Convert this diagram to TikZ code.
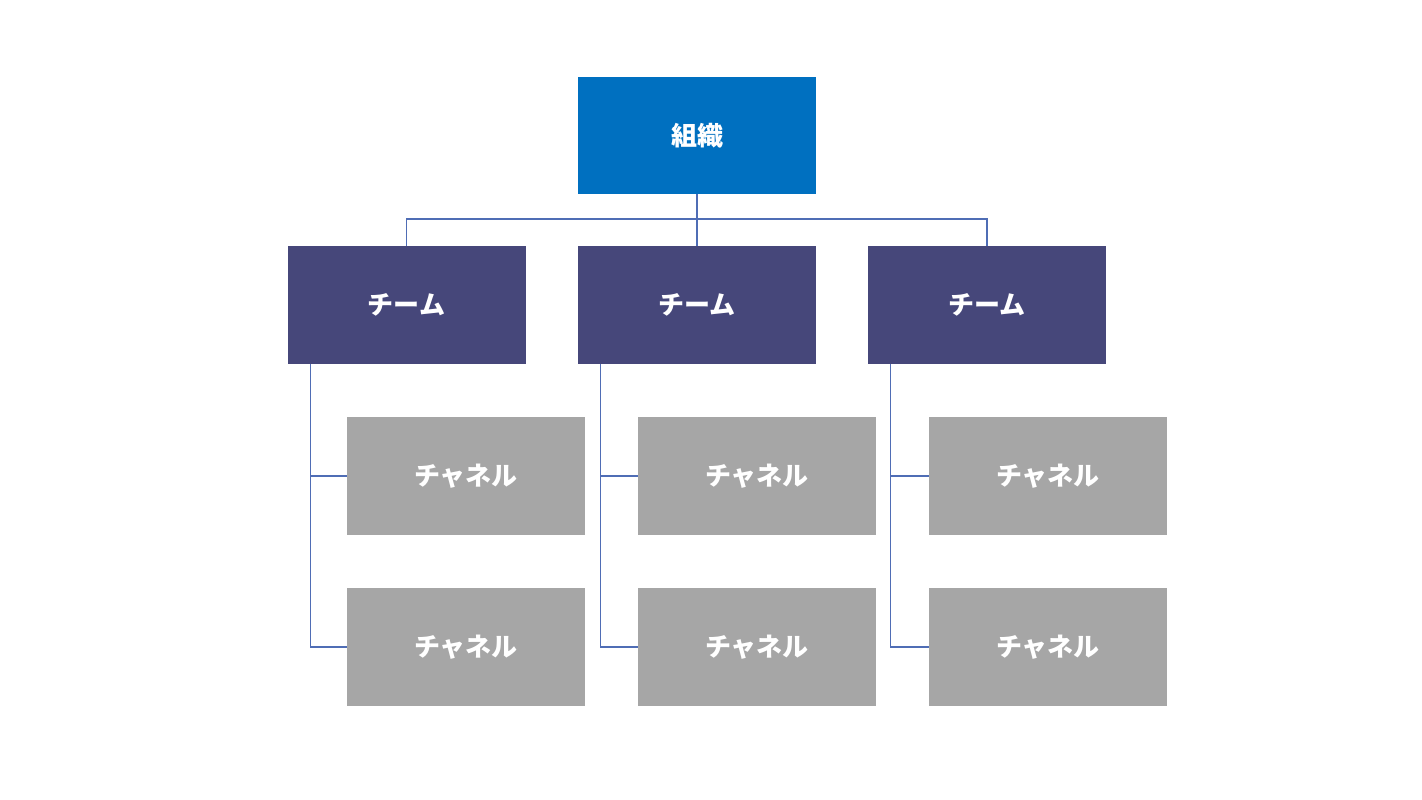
\documentclass[tikz,border=0pt]{standalone}
\usepackage{fontspec}
\newfontfamily\cjk{Noto Sans CJK JP}
\definecolor{orgblue}{HTML}{0070C0}
\definecolor{teamcol}{HTML}{46477A}
\definecolor{chancol}{HTML}{A6A6A6}
\definecolor{linecol}{HTML}{4F6DB5}
\begin{document}
\begin{tikzpicture}[x=0.75pt,y=-0.75pt,
  box/.style={rectangle,inner sep=0pt,minimum width=178.5pt,minimum height=88pt,
    text=white,font=\cjk\bfseries\fontsize{19.5}{23}\selectfont},
  orgbox/.style={box,fill=orgblue},
  teambox/.style={box,fill=teamcol},
  chanbox/.style={box,fill=chancol},
  conn/.style={draw=linecol,line width=1.1pt}]
\useasboundingbox (0,0) rectangle (1422,800);
\node[orgbox] (org) at (697,135.5) {組織};
\node[teambox] (t1) at (406.5,305) {チーム};
\node[teambox] (t2) at (697,305) {チーム};
\node[teambox] (t3) at (987,305) {チーム};
\node[chanbox] (c11) at (466,476) {チャネル};
\node[chanbox] (c12) at (466,647) {チャネル};
\node[chanbox] (c21) at (757,476) {チャネル};
\node[chanbox] (c22) at (757,647) {チャネル};
\node[chanbox] (c31) at (1048,476) {チャネル};
\node[chanbox] (c32) at (1048,647) {チャネル};
\coordinate (bus) at (697,219);
\draw[conn] (org.south) -- (t2.north);
\draw[conn] (bus) -| (t1.north);
\draw[conn] (bus) -| (t3.north);
\foreach \t/\a/\b in {t1/c11/c12,t2/c21/c22,t3/c31/c32}{
  \draw[conn] ([xshift=17.25pt]\t.south west) |- (\a.west);
  \draw[conn] ([xshift=17.25pt]\t.south west) |- (\b.west);
}
\end{tikzpicture}
\end{document}
